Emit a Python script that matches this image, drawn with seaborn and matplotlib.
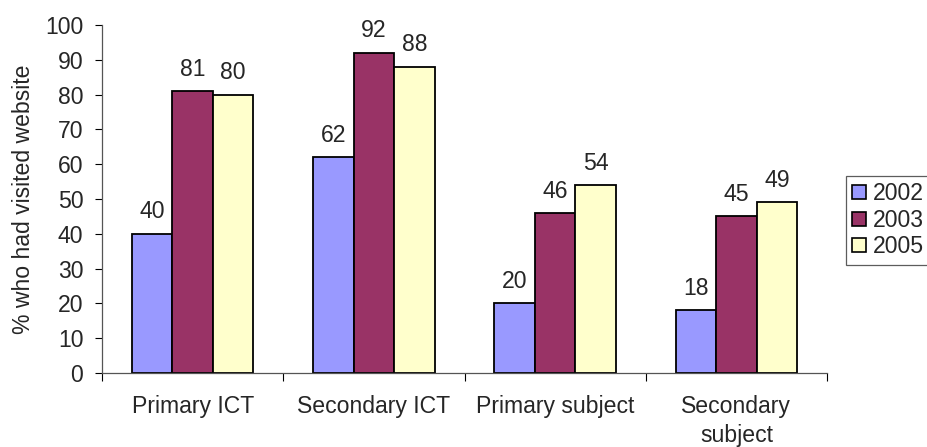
import numpy as np
import pandas as pd
import matplotlib
matplotlib.use("Agg")
import matplotlib.pyplot as plt
import seaborn as sns

# data
categories = ["Primary ICT", "Secondary ICT", "Primary subject", "Secondary\nsubject"]
years = ["2002", "2003", "2005"]
vals_2002 = [40, 62, 20, 18]
vals_2003 = [81, 92, 46, 45]
vals_2005 = [80, 88, 54, 49]
colors = ["#9999FF", "#993366", "#FFFFCC"]

df = pd.DataFrame({
    "category": categories * 3,
    "year": [y for y in years for _ in categories],
    "value": vals_2002 + vals_2003 + vals_2005,
})

sns.set_style("white")
plt.rcParams["font.family"] = ["Liberation Sans", "DejaVu Sans"]
fs = 16.6

fig = plt.figure(figsize=(9.27, 4.47), dpi=100)
W, H = 927, 447
ax = fig.add_axes([102 / W, 1 - 373 / H, (827 - 102) / W, (373 - 25) / H])

sns.barplot(data=df, x="category", y="value", hue="year", order=categories,
            hue_order=years, palette=colors, width=0.67, edgecolor="black",
            linewidth=1.3, saturation=1, ax=ax)

for cont in ax.containers:
    ax.bar_label(cont, padding=7.5, fontsize=fs)

ax.set_ylim(0, 100)
ax.set_xlim(-0.5, len(categories) - 0.5)
ax.set_yticks(np.arange(0, 101, 10))
ax.set_xlabel("")
ax.set_ylabel("% who had visited website", fontsize=fs, labelpad=7)
ax.tick_params(axis="y", labelsize=fs, length=5, width=0.8, color="black", left=True, pad=8.5)
ax.tick_params(axis="x", which="major", length=0, labelsize=fs, pad=16)
for t in ax.get_xticklabels():
    t.set_linespacing(1.3)
ax.set_xticks(np.arange(-0.5, len(categories), 1), minor=True)
ax.tick_params(axis="x", which="minor", length=6, width=0.8, color="black", bottom=True)
for s in ["top", "right"]:
    ax.spines[s].set_visible(False)
for s in ["left", "bottom"]:
    ax.spines[s].set_color("#555555")
    ax.spines[s].set_linewidth(0.9)

ax.legend_.remove()
handles = [plt.Rectangle((0, 0), 1, 1, facecolor=c, edgecolor="black", linewidth=1.2) for c in colors]
leg = fig.legend(handles, years, loc="upper left", bbox_to_anchor=(846 / W, 1 - 176 / H),
                 frameon=True, fancybox=False, fontsize=fs, handlelength=0.6,
                 handleheight=0.55, handletextpad=0.3, labelspacing=0.15,
                 borderpad=0.28, borderaxespad=0)
leg.get_frame().set_edgecolor("#333333")
leg.get_frame().set_linewidth(0.9)

fig.savefig("out.png", dpi=100)
